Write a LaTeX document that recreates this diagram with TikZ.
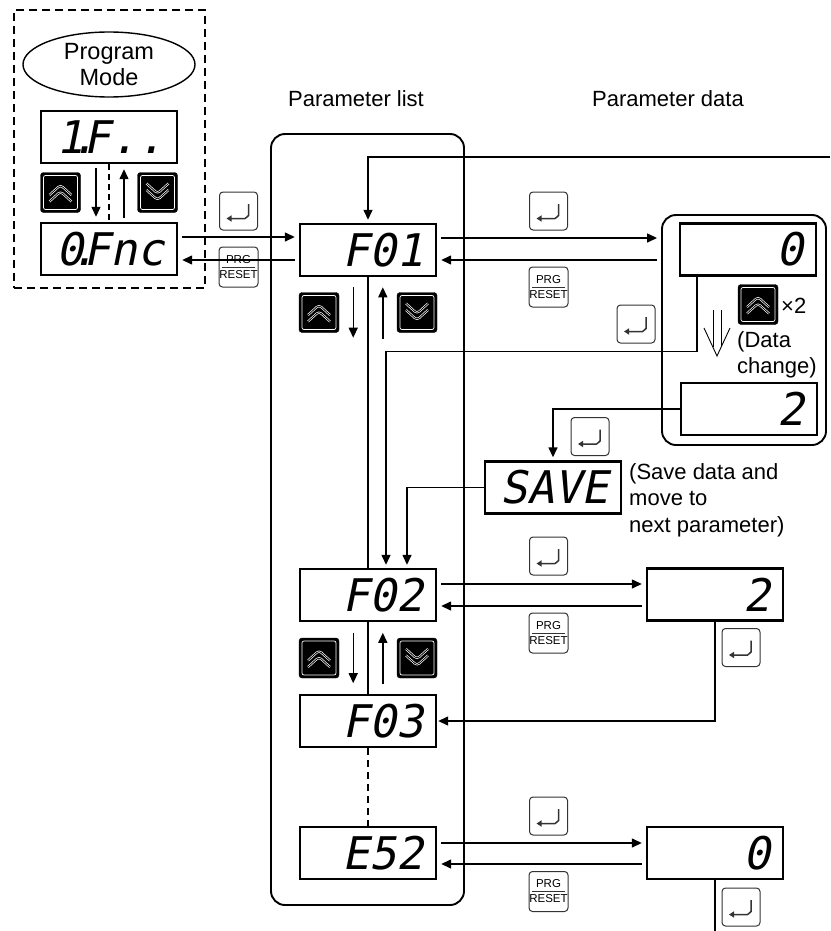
\documentclass[tikz,border=0pt]{standalone}
\usepackage{fontspec}
\setmainfont{Liberation Sans}
\newfontfamily\segfont{DejaVu Sans Mono}[FakeSlant=0.2]
\usetikzlibrary{arrows.meta,shapes.geometric}

\newcommand{\segtext}[1]{\makebox[112pt][r]{#1}}
\newcommand{\segdot}{\makebox[0pt][c]{.}}

\begin{document}
\begin{tikzpicture}[x=1pt, y=-1pt,
    disp/.style={rectangle, draw=black, line width=2.4pt, minimum width=136pt, minimum height=52pt, inner sep=0pt, font=\segfont\fontsize{45}{45}\selectfont},
    panel/.style={rectangle, draw=black, line width=1.9pt, rounded corners=14pt},
    modebox/.style={rectangle, draw=black, line width=1.6pt, dashed, dash pattern=on 8pt off 5pt},
    lbl/.style={inner sep=0pt, font=\fontsize{22}{26.5}\selectfont, align=left},
    upkey/.style={rectangle, fill=black, draw=black, rounded corners=3pt, minimum width=40pt, minimum height=40pt,
        path picture={
            \draw[white, line width=0.7pt, rounded corners=2pt] ([shift={(3pt,3pt)}]path picture bounding box.south west) rectangle ([shift={(-3pt,-3pt)}]path picture bounding box.north east);
            \begin{scope}[shift={(path picture bounding box.center)}]
                \draw[white, double=black, double distance=0.8pt, line width=0.7pt] (-11pt,-2.5pt) -- (0pt,7.5pt) -- (11pt,-2.5pt) (-11pt,-9pt) -- (0pt,1pt) -- (11pt,-9pt);
            \end{scope}}},
    downkey/.style={rectangle, fill=black, draw=black, rounded corners=3pt, minimum width=40pt, minimum height=40pt,
        path picture={
            \draw[white, line width=0.7pt, rounded corners=2pt] ([shift={(3pt,3pt)}]path picture bounding box.south west) rectangle ([shift={(-3pt,-3pt)}]path picture bounding box.north east);
            \begin{scope}[shift={(path picture bounding box.center)}]
                \draw[white, double=black, double distance=0.8pt, line width=0.7pt] (-11pt,9pt) -- (0pt,-1pt) -- (11pt,9pt) (-11pt,2.5pt) -- (0pt,-7.5pt) -- (11pt,2.5pt);
            \end{scope}}},
    entkey/.style={rectangle, draw=black!80, line width=1pt, fill=white, rounded corners=3.5pt, minimum width=38pt, minimum height=38pt,
        path picture={
            \begin{scope}[shift={(path picture bounding box.center)}]
                \draw[line width=1.5pt, -{Triangle[length=5pt,width=6pt]}] (10pt,7pt) -- (10pt,-1pt) to[out=-90,in=0] (3pt,-7.5pt) -- (-12pt,-7.5pt);
            \end{scope}}},
    prgkey/.style={rectangle, draw=black!80, line width=1pt, rounded corners=3.5pt, minimum width=39pt, minimum height=40pt, inner sep=0pt, align=center, font=\fontsize{11.5}{15}\selectfont,
        path picture={\draw[line width=0.8pt] ([xshift=3pt]path picture bounding box.west) -- ([xshift=-3pt]path picture bounding box.east);}},
    conn/.style={line width=1.4pt},
    arr/.style={line width=1.4pt, -{Triangle[length=10pt,width=9pt]}},
    gap/.style={shorten >=4pt, shorten <=4pt}
]
    \useasboundingbox (0,0) rectangle (830,931);

    % Program mode
    \node[modebox, minimum width=191pt, minimum height=278pt] (mode) at (109.5,149) {};
    \node[ellipse, draw=black, line width=1.4pt, minimum width=172pt, minimum height=65pt, lbl, font=\fontsize{23.5}{26}\selectfont, align=center] (prog) at (109,64.5) {Program\\Mode};
    \node[disp] (pm1) at (109,137) {\segtext{1\segdot F..}};
    \node[disp] (pm2) at (109,249) {\segtext{0\segdot Fnc}};
    \node[upkey] (upL) at (60.5,192.5) {};
    \node[downkey] (dnL) at (157.5,192.5) {};

    % Headers
    \node[lbl] (hlist) at (356,99) {Parameter list};
    \node[lbl] (hdata) at (668,99) {Parameter data};

    % Parameter list
    \node[panel, minimum width=193pt, minimum height=771pt] (plist) at (367.5,519.5) {};
    \node[disp] (f01) at (368,250) {\segtext{F01}};
    \node[disp] (f02) at (368,595) {\segtext{F02}};
    \node[disp] (f03) at (368,721) {\segtext{F03}};
    \node[disp] (e52) at (368,853) {\segtext{E52}};
    \node[upkey] (up1) at (319,312.5) {};
    \node[downkey] (dn1) at (417,312.5) {};
    \node[upkey] (up2) at (319,658) {};
    \node[downkey] (dn2) at (417,658) {};

    % Parameter data
    \node[panel, minimum width=164pt, minimum height=230pt] (dgrp) at (744,330) {};
    \node[disp] (d1) at (748,249.5) {\segtext{0}};
    \node[disp] (d2) at (749,409) {\segtext{2}};
    \node[upkey] (upd) at (758,304.5) {};
    \node[lbl, anchor=west] (x2) at (781,306) {×2};
    \node[lbl, anchor=west] (chg) at (737,355) {(Data\\change)};
    \node[disp] (sv) at (553,487.5) {\segtext{SAVE}};
    \node[lbl, anchor=west] (note) at (629,500) {(Save data and\\move to\\next parameter)};
    \node[disp] (d3) at (715,594.5) {\segtext{2}};
    \node[disp] (d4) at (715,853) {\segtext{0}};

    % Keys
    \node[entkey] (entL) at (238.5,211) {};
    \node[prgkey] (prgL) at (238.5,267) {PRG\\RESET};
    \node[entkey] (ent1) at (548.5,211) {};
    \node[prgkey] (prg1) at (548.5,287) {PRG\\RESET};
    \node[entkey] (ent2) at (636,324) {};
    \node[entkey] (ent3) at (590,436.5) {};
    \node[entkey] (ent4) at (548.5,556) {};
    \node[prgkey] (prg2) at (548.5,633) {PRG\\RESET};
    \node[entkey] (ent5) at (741,647.5) {};
    \node[entkey] (ent6) at (548.5,816) {};
    \node[prgkey] (prg3) at (548.5,891.5) {PRG\\RESET};
    \node[entkey] (ent7) at (741,907) {};

    % Program mode connectors
    \draw[arr] ([xshift=-13pt,yshift=-4pt]pm1.south) -- ([xshift=-13pt,yshift=5pt]pm2.north);
    \draw[arr] ([xshift=15pt,yshift=4pt]pm2.north) -- ([xshift=15pt,yshift=-5pt]pm1.south);
    \draw[conn, dashed, dash pattern=on 6pt off 4pt] (pm1.south) -- (pm2.north);
    \draw[arr, gap] ([yshift=12pt]pm2.east) -- ([yshift=12pt]pm2.east -| f01.west);
    \draw[arr, gap] ([yshift=-10pt]f01.west) -- ([yshift=-10pt]f01.west -| pm2.east);

    % List connectors
    \coordinate (ret) at (830,157);
    \draw[arr, shorten >=3pt] (ret) -| (f01.north);
    \draw[conn] (f01.south) -- (f02.north);
    \draw[conn] (f02.south) -- (f03.north);
    \draw[conn, dashed, dash pattern=on 7pt off 5pt] (f03.south) -- (e52.north);
    \draw[arr] ([xshift=14pt,yshift=5pt]up1.north east) -- ([xshift=14pt,yshift=-5pt]up1.south east);
    \draw[arr] ([xshift=-14pt,yshift=-6pt]dn1.south west) -- ([xshift=-14pt,yshift=5pt]dn1.north west);
    \draw[arr] ([xshift=14pt,yshift=5pt]up2.north east) -- ([xshift=14pt,yshift=-5pt]up2.south east);
    \draw[arr] ([xshift=-14pt,yshift=-6pt]dn2.south west) -- ([xshift=-14pt,yshift=5pt]dn2.north west);

    % Data connectors
    \draw[arr, gap] ([yshift=12pt]f01.east) -- ([yshift=12pt]f01.east -| dgrp.west);
    \draw[arr, gap] ([yshift=-10pt]f01.east -| dgrp.west) -- ([yshift=-10pt]f01.east);
    \draw[arr, shorten >=3pt] ([xshift=-51pt]d1.south) -- ++(0,75) -| ([xshift=18pt]f02.north);
    \draw[arr, shorten >=3pt] (d2.west) -| (sv.north);
    \draw[arr, shorten >=3pt] (sv.west) -| ([xshift=39pt]f02.north);
    \draw[arr, gap] ([yshift=11pt]f02.east) -- ([yshift=11pt]f02.east -| d3.west);
    \draw[arr, gap] ([yshift=-11pt]f02.east -| d3.west) -- ([yshift=-11pt]f02.east);
    \draw[arr, shorten >=1pt] (d3.south) |- (f03.east);
    \draw[arr, gap] ([yshift=10pt]e52.east) -- ([yshift=10pt]e52.east -| d4.west);
    \draw[arr, gap] ([yshift=-11pt]e52.east -| d4.west) -- ([yshift=-11pt]e52.east);
    \coordinate (out) at (715,931);
    \draw[conn] (d4.south) -- (out);

    % Data change arrow
    \coordinate (chgarr) at (717,310);
    \draw[line width=0.9pt] ([xshift=-4pt]chgarr) -- ++(0,37) ([xshift=4pt]chgarr) -- ++(0,37);
    \draw[line width=0.9pt] ([xshift=-13pt,yshift=-18pt]chgarr) -- ([yshift=-46pt]chgarr) -- ([xshift=13pt,yshift=-18pt]chgarr);

\end{tikzpicture}
\end{document}
